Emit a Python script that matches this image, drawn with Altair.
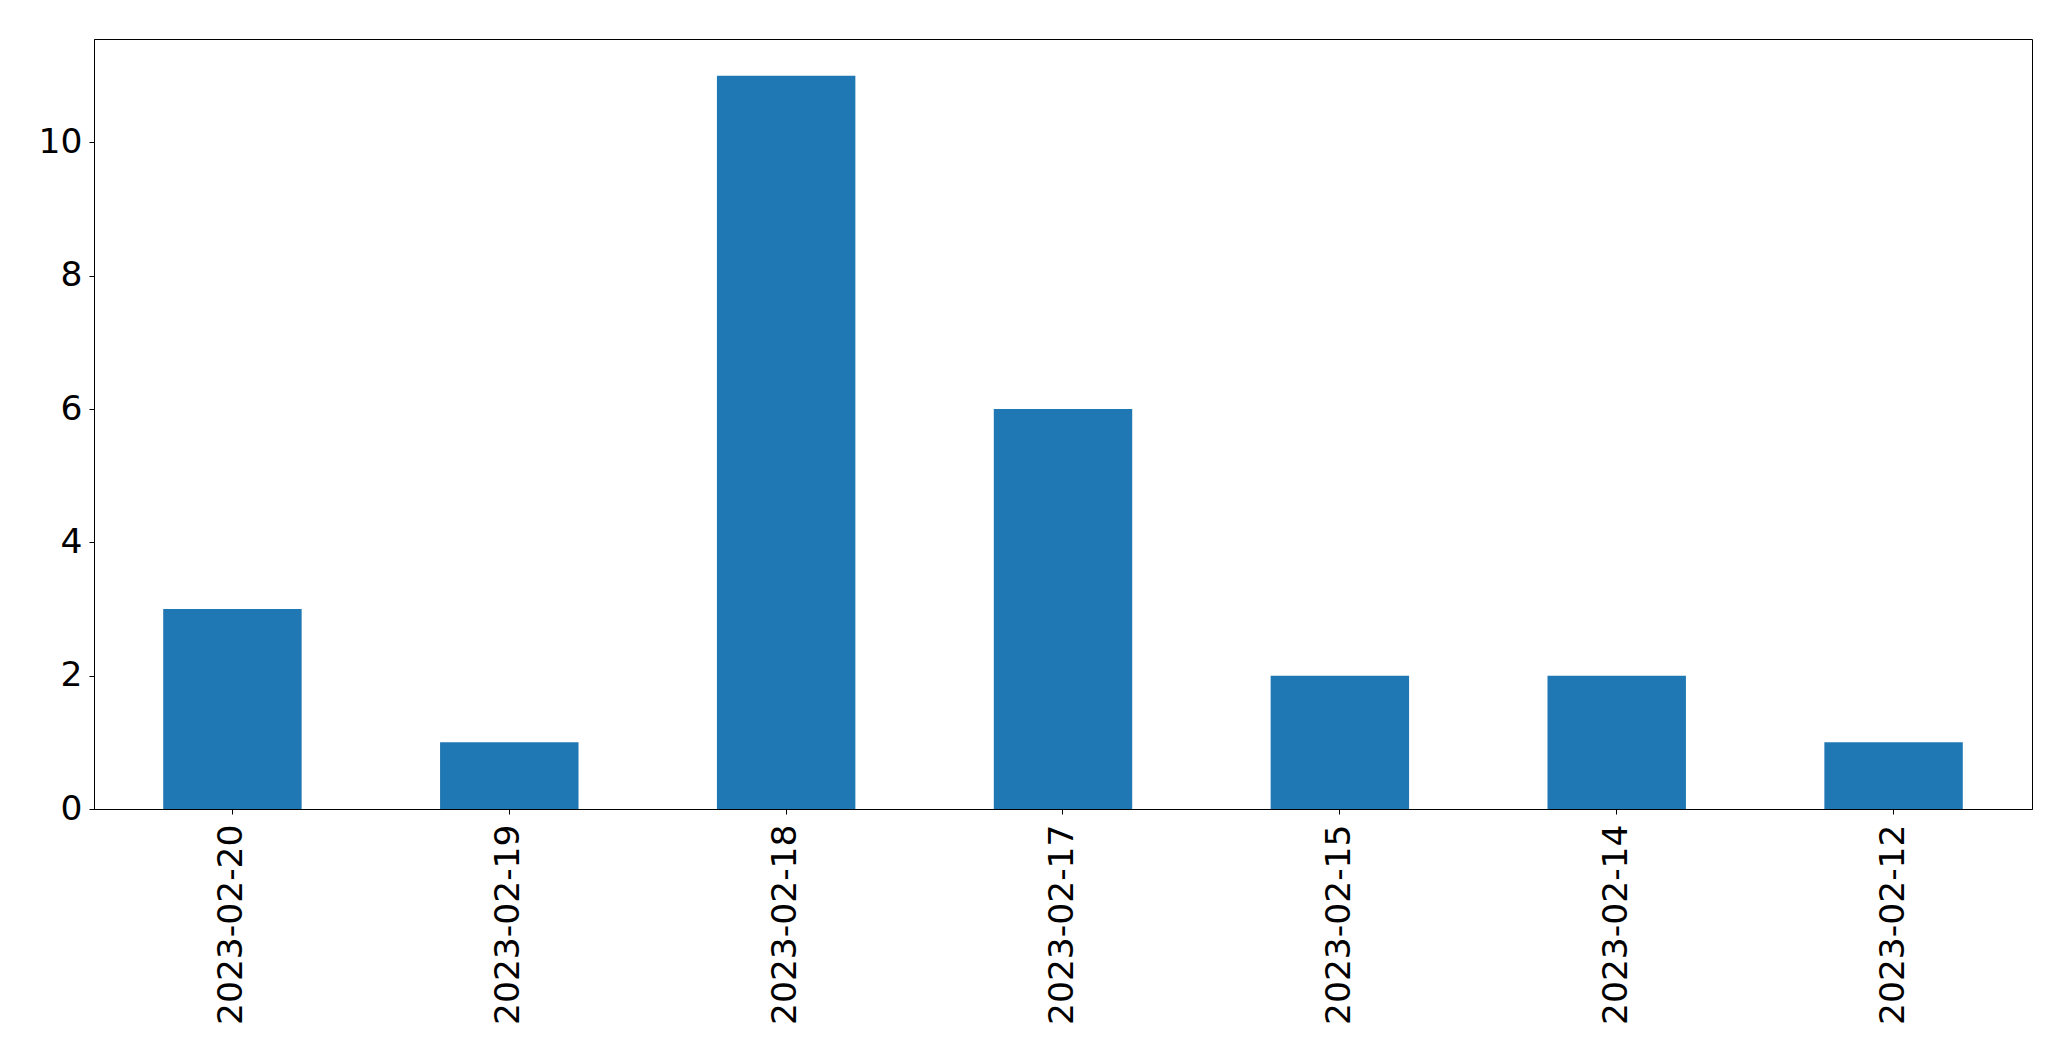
import altair as alt
import pandas as pd

dates = ["2023-02-20", "2023-02-19", "2023-02-18", "2023-02-17", "2023-02-15", "2023-02-14", "2023-02-12"]
counts = [3, 1, 11, 6, 2, 2, 1]
y_ticks = [0, 2, 4, 6, 8, 10]

df = pd.DataFrame({"date": dates, "count": counts})

chart = alt.Chart(df).mark_bar(color="#1f77b4").encode(
    x=alt.X("date:N", sort=None, title=None,
            scale=alt.Scale(paddingInner=0.5, paddingOuter=0.25),
            axis=alt.Axis(labelAngle=270, labelAlign="right", labelBaseline="middle",
                          labelFontSize=34.5, labelFont="DejaVu Sans", labelColor="black",
                          labelLimit=0,
                          tickSize=5, tickColor="black", tickWidth=1, labelPadding=10,
                          domainColor="black", domainWidth=1, grid=False)),
    y=alt.Y("count:Q", title=None,
            scale=alt.Scale(domain=[0, 11.55], nice=False, zero=True),
            axis=alt.Axis(values=y_ticks, labelFontSize=34.5, labelFont="DejaVu Sans",
                          labelColor="black", tickSize=5, tickColor="black", tickWidth=1,
                          labelPadding=7, domainColor="black", domainWidth=1, grid=False)),
).properties(
    width=1938,
    height=770,
    autosize=alt.AutoSizeParams(type="none"),
    padding={"left": 86, "top": 31, "right": 20, "bottom": 230},
).configure_view(
    stroke="black", strokeWidth=1
)

chart.save("out.html", embed_options={"renderer": "svg", "actions": False})
